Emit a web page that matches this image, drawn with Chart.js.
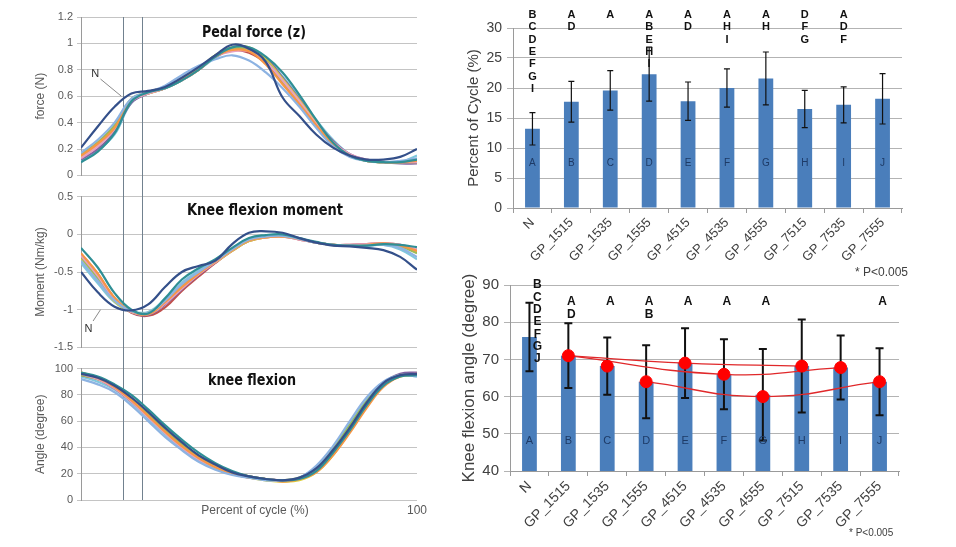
<!DOCTYPE html>
<html>
<head>
<meta charset="utf-8">
<script src="https://cdn.jsdelivr.net/npm/chart.js@4.4.0/dist/chart.umd.min.js"></script>
<style>
  body { margin: 0; background: #fff; width: 956px; height: 547px; overflow: hidden; position: relative; font-family: "Liberation Sans", Arial, sans-serif; }
  canvas { position: absolute; }
  .note { position: absolute; color: #404040; white-space: nowrap; }
</style>
</head>
<body>
<canvas id="force" width="432" height="186" style="left:0;top:0"></canvas>
<canvas id="moment" width="432" height="172" style="left:0;top:186px"></canvas>
<canvas id="angle" width="432" height="189" style="left:0;top:358px"></canvas>
<canvas id="cycle" width="516" height="260" style="left:440px;top:0"></canvas>
<canvas id="knee" width="516" height="287" style="left:440px;top:260px"></canvas>
<div class="note" style="left:855px;top:265px;font-size:12px">* P&lt;0.005</div>
<div class="note" style="left:849px;top:527px;font-size:10px">* P&lt;0.005</div>

<script>
// ---- left panels: curves over the pedal cycle (every 5 %) ----
const pct = [0, 5, 10, 15, 20, 25, 30, 35, 40, 45, 50, 55, 60, 65, 70, 75, 80, 85, 90, 95, 100];
const markers = [12.5, 18.2];   // the two vertical lines
const curveColors = ['#34508a', '#2f8f95', '#8db3e2', '#f79646', '#e8a0bf', '#9bbb59', '#dccf3c', '#8064a2', '#c0504d', '#7fc7dd'];

const forceN    = [0.21, 0.37, 0.52, 0.62, 0.64, 0.67, 0.74, 0.82, 0.91, 0.99, 0.96, 0.86, 0.59, 0.45, 0.31, 0.21, 0.15, 0.12, 0.12, 0.14, 0.20];
const forceTeal = [0.10, 0.18, 0.32, 0.56, 0.63, 0.66, 0.72, 0.80, 0.90, 0.97, 0.97, 0.90, 0.78, 0.61, 0.42, 0.25, 0.15, 0.11, 0.10, 0.10, 0.12];
const forceLtBl = [0.17, 0.27, 0.40, 0.58, 0.63, 0.68, 0.76, 0.83, 0.88, 0.91, 0.87, 0.78, 0.66, 0.52, 0.36, 0.22, 0.14, 0.11, 0.10, 0.11, 0.13];
const forceOrng = [0.15, 0.24, 0.36, 0.57, 0.63, 0.67, 0.73, 0.80, 0.90, 0.95, 0.94, 0.84, 0.69, 0.54, 0.38, 0.24, 0.15, 0.11, 0.10, 0.10, 0.11];
const forcePink = [0.13, 0.22, 0.35, 0.56, 0.62, 0.66, 0.72, 0.80, 0.90, 0.94, 0.94, 0.86, 0.72, 0.56, 0.39, 0.25, 0.16, 0.12, 0.10, 0.10, 0.10];
const forceGrn  = [0.16, 0.25, 0.38, 0.58, 0.63, 0.67, 0.73, 0.81, 0.91, 0.96, 0.95, 0.87, 0.71, 0.55, 0.38, 0.24, 0.15, 0.11, 0.10, 0.10, 0.11];
const forceYel  = [0.14, 0.23, 0.36, 0.57, 0.62, 0.66, 0.72, 0.80, 0.91, 0.97, 0.97, 0.88, 0.73, 0.57, 0.40, 0.25, 0.15, 0.11, 0.10, 0.10, 0.10];
const forcePurp = [0.12, 0.20, 0.33, 0.55, 0.62, 0.66, 0.72, 0.80, 0.90, 0.95, 0.95, 0.89, 0.74, 0.58, 0.41, 0.26, 0.16, 0.12, 0.10, 0.09, 0.09];
const forceRed  = [0.14, 0.23, 0.35, 0.56, 0.62, 0.66, 0.73, 0.81, 0.90, 0.95, 0.93, 0.85, 0.70, 0.54, 0.37, 0.23, 0.15, 0.11, 0.10, 0.10, 0.11];
const forceCyan = [0.11, 0.19, 0.31, 0.55, 0.62, 0.66, 0.72, 0.80, 0.89, 0.96, 0.96, 0.88, 0.75, 0.59, 0.42, 0.27, 0.16, 0.11, 0.10, 0.10, 0.15];

const momN    = [-0.50, -0.77, -0.96, -1.01, -0.93, -0.70, -0.50, -0.42, -0.35, -0.13, 0.02, 0.04, 0.02, -0.05, -0.11, -0.15, -0.16, -0.18, -0.21, -0.30, -0.47];
const momTeal = [-0.18, -0.44, -0.78, -1.00, -1.05, -0.85, -0.60, -0.45, -0.33, -0.18, -0.05, -0.01, 0.00, -0.05, -0.10, -0.14, -0.15, -0.15, -0.13, -0.14, -0.17];
const momLtBl = [-0.35, -0.62, -0.88, -1.02, -1.04, -0.88, -0.66, -0.50, -0.35, -0.20, -0.07, -0.03, -0.02, -0.06, -0.11, -0.14, -0.15, -0.15, -0.14, -0.18, -0.30];
const momOrng = [-0.25, -0.52, -0.84, -1.02, -1.06, -0.90, -0.70, -0.52, -0.36, -0.21, -0.08, -0.04, -0.03, -0.06, -0.11, -0.14, -0.15, -0.14, -0.12, -0.15, -0.22];
const momPink = [-0.28, -0.55, -0.86, -1.03, -1.06, -0.92, -0.72, -0.53, -0.37, -0.21, -0.08, -0.04, -0.03, -0.07, -0.11, -0.14, -0.14, -0.13, -0.12, -0.14, -0.20];
const momGrn  = [-0.30, -0.58, -0.87, -1.02, -1.04, -0.88, -0.67, -0.51, -0.36, -0.21, -0.08, -0.03, -0.02, -0.06, -0.11, -0.14, -0.15, -0.14, -0.13, -0.16, -0.25];
const momYel  = [-0.32, -0.60, -0.89, -1.03, -1.05, -0.89, -0.68, -0.51, -0.37, -0.22, -0.09, -0.04, -0.03, -0.06, -0.11, -0.14, -0.15, -0.14, -0.13, -0.15, -0.24];
const momPurp = [-0.26, -0.53, -0.85, -1.03, -1.07, -0.93, -0.73, -0.54, -0.37, -0.21, -0.07, -0.03, -0.02, -0.06, -0.11, -0.14, -0.15, -0.14, -0.13, -0.15, -0.21];
const momRed  = [-0.27, -0.54, -0.85, -1.04, -1.08, -0.97, -0.75, -0.56, -0.38, -0.22, -0.09, -0.04, -0.03, -0.07, -0.11, -0.14, -0.14, -0.13, -0.12, -0.14, -0.22];
const momCyan = [-0.38, -0.65, -0.90, -1.02, -1.03, -0.86, -0.64, -0.48, -0.34, -0.19, -0.06, -0.02, -0.02, -0.06, -0.11, -0.14, -0.15, -0.15, -0.14, -0.20, -0.33];

const angN    = [96, 93, 87, 78, 67, 55, 44, 34, 27, 21, 18, 16, 15, 17, 24, 38, 55, 74, 89, 95, 96];
const angTeal = [97, 94, 88, 80, 69, 57, 46, 36, 28, 22, 18, 16, 15, 16, 22, 36, 53, 72, 87, 94, 95];
const angLtBl = [92, 88, 82, 72, 60, 48, 38, 29, 23, 19, 17, 15, 15, 17, 26, 41, 60, 78, 90, 95, 94];
const angOrng = [97, 93, 86, 76, 64, 52, 41, 32, 25, 20, 17, 16, 14, 16, 21, 34, 51, 70, 86, 94, 96];
const angPink = [96, 92, 85, 75, 63, 51, 40, 31, 25, 20, 17, 16, 15, 16, 22, 35, 53, 72, 88, 95, 96];
const angGrn  = [95, 92, 86, 76, 65, 53, 42, 33, 26, 21, 18, 16, 15, 17, 24, 39, 57, 75, 89, 95, 95];
const angYel  = [97, 93, 86, 76, 64, 52, 41, 32, 25, 20, 17, 15, 14, 15, 21, 34, 52, 71, 87, 94, 95];
const angPurp = [96, 93, 86, 77, 66, 54, 43, 34, 27, 21, 18, 16, 15, 16, 23, 37, 55, 74, 89, 96, 97];
const angRed  = [95, 92, 85, 75, 64, 52, 41, 32, 26, 21, 18, 16, 15, 16, 23, 36, 54, 73, 88, 95, 95];
const angCyan = [94, 90, 84, 74, 62, 50, 39, 30, 24, 20, 17, 16, 15, 17, 25, 40, 58, 76, 89, 95, 94];

// ---- right panels: group means and SDs ----
const groups = ['N', 'GP_1515', 'GP_1535', 'GP_1555', 'GP_4515', 'GP_4535', 'GP_4555', 'GP_7515', 'GP_7535', 'GP_7555'];
const groupLetters = ['A', 'B', 'C', 'D', 'E', 'F', 'G', 'H', 'I', 'J'];

const cycleMean = [13.2, 17.7, 19.6, 22.3, 17.8, 20.0, 21.6, 16.5, 17.2, 18.2];
const cycleSd   = [2.7, 3.4, 3.3, 4.5, 3.2, 3.2, 4.4, 3.1, 3.0, 4.2];
const cycleSig  = [['B', 'C', 'D', 'E', 'F', 'G', 'I'], ['A', 'D'], ['A'], ['A', 'B', 'E', 'H', 'I'], ['A', 'D'], ['A', 'H', 'I'], ['A', 'H'], ['D', 'F', 'G'], ['A', 'D', 'F'], []];

const angleMean = [76.0, 71.0, 68.2, 64.0, 69.0, 66.0, 60.5, 68.2, 67.8, 64.0];
const angleSd   = [9.2, 8.7, 7.7, 9.8, 9.4, 9.4, 12.3, 12.5, 8.6, 9.0];
const angleSig  = [['B', 'C', 'D', 'E', 'F', 'G', 'J'], ['A', 'D'], ['A'], ['A', 'B'], ['A'], ['A'], ['A'], [], [], ['A']];
const angleDots = [null, 71.0, 68.2, 64.0, 69.0, 66.0, 60.0, 68.2, 67.8, 64.0];
const trendHigh = [null, 71.0, null, null, 69.0, null, null, 68.2, null, null];
const trendMid  = [null, 71.0, null, null, null, 66.0, null, null, 67.8, null];
const trendLow  = [null, null, null, 64.0, null, null, 60.0, null, null, 64.0];

Chart.defaults.font.family = '"Liberation Sans", Arial, sans-serif';

// vertical markers, heading and labels for the left panels
const panelPlugin = {
  id: 'panel',
  beforeDatasetsDraw(chart, args, o) {
    const { ctx, chartArea: a, scales: { x } } = chart;
    ctx.save();
    ctx.strokeStyle = '#71818f';
    ctx.lineWidth = 1;
    markers.forEach(m => {
      const px = Math.round(x.getPixelForValue(m)) + 0.5;
      ctx.beginPath();
      ctx.moveTo(px, o.fromTop ? a.top : 0);
      ctx.lineTo(px, o.toBottom ? a.bottom : chart.height);
      ctx.stroke();
    });
    ctx.restore();
  },
  afterDatasetsDraw(chart, args, o) {
    const { ctx, chartArea: a, scales: { x, y } } = chart;
    ctx.save();
    ctx.fillStyle = '#111';
    ctx.textAlign = 'center';
    ctx.textBaseline = 'middle';
    ctx.font = 'bold 15px "DejaVu Sans", sans-serif';
    ctx.fillText(o.heading, o.headX, a.top + o.headDy, o.headW);
    if (o.nLabel) {
      ctx.strokeStyle = '#8a8a8a';
      ctx.lineWidth = 1;
      ctx.beginPath();
      ctx.moveTo(x.getPixelForValue(o.nLine[0]), y.getPixelForValue(o.nLine[1]));
      ctx.lineTo(x.getPixelForValue(o.nLine[2]), y.getPixelForValue(o.nLine[3]));
      ctx.stroke();
      ctx.font = '11px "Liberation Sans", sans-serif';
      ctx.fillStyle = '#333';
      ctx.fillText('N', x.getPixelForValue(o.nLabel[0]), y.getPixelForValue(o.nLabel[1]));
    }
    if (o.xTitle) {
      ctx.font = '12px "Liberation Sans", sans-serif';
      ctx.fillStyle = '#595959';
      ctx.fillText(o.xTitle, 255, a.bottom + 11);
      ctx.fillText('100', x.getPixelForValue(100), a.bottom + 11);
    }
    ctx.restore();
  }
};

function leftChart(id, series, ymin, ymax, step, title, pad, extra) {
  new Chart(document.getElementById(id), {
    type: 'line',
    data: {
      datasets: series.map((s, i) => ({
        data: pct.map((x, j) => ({ x, y: s[j] })),
        borderColor: curveColors[i],
        borderWidth: 2.2,
        pointRadius: 0,
        tension: 0.4
      }))
    },
    options: {
      responsive: false,
      animation: false,
      devicePixelRatio: 1,
      layout: { padding: { top: pad[0], bottom: pad[1], left: 0, right: 15 } },
      plugins: { legend: { display: false }, tooltip: { enabled: false }, panel: extra },
      scales: {
        x: { type: 'linear', min: 0, max: 100, display: false },
        y: {
          min: ymin, max: ymax,
          ticks: { stepSize: step, color: '#595959', font: { size: 11 }, padding: 4, callback: v => +v.toFixed(1) },
          grid: { color: '#c4c4c4', tickLength: 4 },
          border: { color: '#9a9a9a' },
          title: { display: true, text: title, color: '#595959', font: { size: 12 }, padding: { top: 33, bottom: 0 } },
          afterFit: s => { s.width = 81; }
        }
      }
    },
    plugins: [panelPlugin]
  });
}

leftChart('force', [forceN, forceTeal, forceLtBl, forceOrng, forcePink, forceGrn, forceYel, forcePurp, forceRed, forceCyan],
  0, 1.2, 0.2, 'force (N)', [17, 10],
  { heading: 'Pedal force (z)', headX: 254, headDy: 16, headW: 104, fromTop: true, toBottom: false,
    nLabel: [4.2, 0.77], nLine: [5.8, 0.73, 12, 0.6] });

leftChart('moment', [momN, momTeal, momLtBl, momOrng, momPink, momGrn, momYel, momPurp, momRed, momCyan],
  -1.5, 0.5, 0.5, 'Moment (Nm/kg)', [10, 9],
  { heading: 'Knee flexion moment', headX: 265, headDy: 15, headW: 156, fromTop: false, toBottom: false,
    nLabel: [2.2, -1.26], nLine: [3.6, -1.15, 5.8, -1.0] });

leftChart('angle', [angN, angTeal, angLtBl, angOrng, angPink, angGrn, angYel, angPurp, angRed, angCyan],
  0, 100, 20, 'Angle (degree)', [8, 47],
  { heading: 'knee flexion', headX: 252, headDy: 13, headW: 88, fromTop: false, toBottom: true, xTitle: 'Percent of cycle (%)' });

// error bars, group letters and significance letters on the bar charts
const statsPlugin = {
  id: 'stats',
  afterDatasetDraw(chart, args, o) {
    if (args.index !== 0) return;
    const { ctx, scales: { x, y } } = chart;
    ctx.save();
    ctx.strokeStyle = '#111';
    ctx.lineWidth = o.errWidth;
    o.mean.forEach((m, i) => {
      const px = x.getPixelForValue(i);
      const hi = y.getPixelForValue(m + o.sd[i]);
      const lo = y.getPixelForValue(m - o.sd[i]);
      ctx.beginPath();
      ctx.moveTo(px, hi); ctx.lineTo(px, lo);
      ctx.moveTo(px - o.cap, hi); ctx.lineTo(px + o.cap, hi);
      ctx.moveTo(px - o.cap, lo); ctx.lineTo(px + o.cap, lo);
      ctx.stroke();
    });
    ctx.restore();
  },
  afterDraw(chart, args, o) {
    const { ctx, chartArea: a, scales: { x, y } } = chart;
    ctx.save();
    ctx.textAlign = 'center';
    ctx.textBaseline = 'middle';
    ctx.font = o.innerFont;
    ctx.fillStyle = '#1d3a66';
    groupLetters.forEach((g, i) => ctx.fillText(g, x.getPixelForValue(i), y.getPixelForValue(o.innerAt)));
    ctx.font = o.sigFont;
    ctx.fillStyle = '#111';
    o.sig.forEach((list, i) => {
      const start = a.top + (i === 0 ? o.firstOffset : o.restOffset);
      const px = x.getPixelForValue(i) + (i === 0 ? o.firstDx : o.restDx);
      list.forEach((s, k) => ctx.fillText(s, px, start + k * o.rowGap));
    });
    ctx.restore();
  }
};

function barChart(id, extraSets, ymin, ymax, step, title, tickSize, titleSize, pad, yWidth, xHeight, titlePad, stats) {
  new Chart(document.getElementById(id), {
    type: 'bar',
    data: {
      labels: groups,
      datasets: [
        { data: stats.mean, backgroundColor: '#4a7ebb', barPercentage: 0.38, categoryPercentage: 1, order: 3 },
        ...extraSets
      ]
    },
    options: {
      responsive: false,
      animation: false,
      devicePixelRatio: 1,
      layout: { padding: { top: pad[0], right: pad[1], bottom: 0, left: 0 } },
      plugins: { legend: { display: false }, tooltip: { enabled: false }, stats },
      scales: {
        x: {
          grid: { drawOnChartArea: false, color: '#9a9a9a', tickLength: 5 },
          border: { color: '#9a9a9a' },
          ticks: { color: '#404040', font: { size: tickSize - 1 }, minRotation: 45, maxRotation: 45, autoSkip: false, padding: 2 },
          afterFit: s => { s.height = xHeight; }
        },
        y: {
          min: ymin, max: ymax,
          ticks: { stepSize: step, color: '#404040', font: { size: tickSize }, padding: 5 },
          grid: { color: '#b3b3b3', tickLength: 6 },
          border: { color: '#9a9a9a' },
          title: { display: true, text: title, color: '#404040', font: { size: titleSize }, padding: { top: titlePad, bottom: 0 } },
          afterFit: s => { s.width = yWidth; }
        }
      }
    },
    plugins: [statsPlugin]
  });
}

barChart('cycle', [], 0, 30, 5, 'Percent of Cycle (%)', 14, 15, [28, 54], 73, 52, 25,
  { mean: cycleMean, sd: cycleSd, errWidth: 1.2, cap: 3, innerAt: 7.5, innerFont: '10px "Liberation Sans", sans-serif',
    sig: cycleSig, sigFont: 'bold 11px "Liberation Sans", sans-serif', firstOffset: -13, restOffset: -13, firstDx: 0, restDx: 0, rowGap: 12.3 });

const trendStyle = { type: 'line', borderColor: '#e0282a', borderWidth: 1.3, pointRadius: 0, tension: 0.45, spanGaps: true, order: 2 };
barChart('knee', [
    { ...trendStyle, data: trendHigh },
    { ...trendStyle, data: trendMid },
    { ...trendStyle, data: trendLow },
    { type: 'line', data: angleDots, showLine: false, pointRadius: 6, pointBackgroundColor: '#ff0000', pointBorderColor: '#ff0000', order: 1 }
  ], 40, 90, 10, 'Knee flexion angle (degree)', 15, 17, [25, 57], 70, 76, 19,
  { mean: angleMean, sd: angleSd, errWidth: 2, cap: 4, innerAt: 48, innerFont: '11px "Liberation Sans", sans-serif',
    sig: angleSig, sigFont: 'bold 12px "Liberation Sans", sans-serif', firstOffset: 0, restOffset: 17, firstDx: 8, restDx: 3, rowGap: 12.3 });
</script>
</body>
</html>
